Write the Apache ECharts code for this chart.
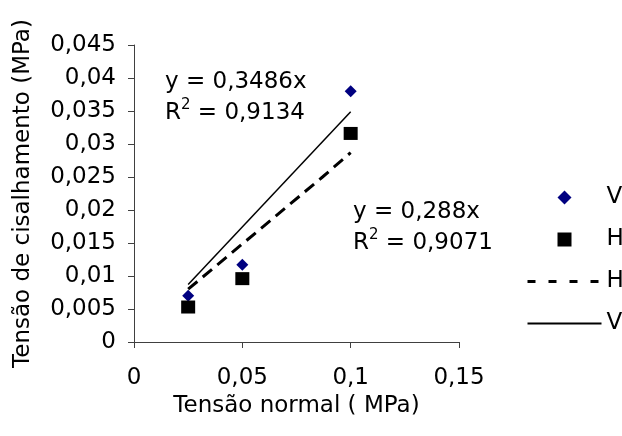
<!DOCTYPE html>
<html>
<head>
<meta charset="utf-8">
<title>Tensão de cisalhamento x Tensão normal</title>
<script src="https://cdn.jsdelivr.net/npm/echarts@6/dist/echarts.min.js"></script>
<style>
  html, body { margin: 0; padding: 0; background: #fff; }
  #chart { width: 622px; height: 436px; }
</style>
</head>
<body>
<div id="chart"></div>
<script>
// pontos medidos (tensão normal, tensão de cisalhamento), em MPa
var tensaoNormal = [0.025, 0.05, 0.1];
var cisalhamentoV = [0.0070, 0.0117, 0.0380];
var cisalhamentoH = [0.0053, 0.0096, 0.0316];

// linhas de tendência
var tendenciaV = [[0.025, 0.0087], [0.1, 0.0349]];
var tendenciaH = [[0.025, 0.0080], [0.087, 0.0250], [0.1, 0.0287]];

// equações das tendências
var equacaoV = ['y = 0,3486x', '0,9134'];
var equacaoH = ['y = 0,288x', '0,9071'];

var fonte = 'DejaVu Sans';
var tam = 23;
var corEixo = '#404040';

// ícones da legenda: a caixa inteira (74x14) entra no caminho para o marcador não esticar
var iconeLosango = 'path://M0,0L0,0M74,14L74,14M30,7L37,0L44,7L37,14Z';
var iconeQuadrado = 'path://M0,0L0,0M74,14L74,14M30,0L44,0L44,14L30,14Z';

function virgula(v) {
  return String(v).replace('.', ',');
}

function pares(xs, ys) {
  return xs.map(function (x, i) { return [x, ys[i]]; });
}

function rotulo(eq, x, y) {
  var rich = {
    t: { fontFamily: fonte, fontSize: tam, lineHeight: 31, fill: '#000' },
    s: { fontFamily: fonte, fontSize: 15, lineHeight: 20, verticalAlign: 'top', fill: '#000' }
  };
  return {
    type: 'text',
    left: x,
    top: y,
    silent: true,
    style: {
      text: '{t|' + eq[0] + '}\n{t|R}{s|2}{t| = ' + eq[1] + '}',
      rich: rich,
      fill: '#000'
    }
  };
}

var chart = echarts.init(document.getElementById('chart'));

chart.setOption({
  animation: false,
  backgroundColor: '#fff',
  textStyle: { fontFamily: fonte },
  grid: { left: 134, top: 45, width: 325, height: 297 },
  xAxis: {
    type: 'value',
    min: 0,
    max: 0.15,
    interval: 0.05,
    splitLine: { show: false },
    axisLine: { lineStyle: { color: corEixo, width: 1 } },
    axisTick: { length: 6, lineStyle: { color: corEixo } },
    axisLabel: { fontFamily: fonte, fontSize: tam, color: '#000', margin: 25, formatter: virgula },
    name: 'Tensão normal ( MPa)',
    nameLocation: 'middle',
    nameGap: 52,
    nameTextStyle: { fontFamily: fonte, fontSize: tam, color: '#000' }
  },
  yAxis: {
    type: 'value',
    min: 0,
    max: 0.045,
    interval: 0.005,
    splitLine: { show: false },
    axisLine: { show: true, lineStyle: { color: corEixo, width: 1 } },
    axisTick: { show: true, length: 6, lineStyle: { color: corEixo } },
    axisLabel: { fontFamily: fonte, fontSize: tam, color: '#000', margin: 18, formatter: virgula },
    name: 'Tensão de cisalhamento (MPa)',
    nameLocation: 'middle',
    nameRotate: 90,
    nameGap: 99,
    nameTextStyle: { fontFamily: fonte, fontSize: tam, color: '#000' }
  },
  legend: {
    orient: 'vertical',
    left: 526,
    top: 186,
    padding: 0,
    itemWidth: 74,
    itemHeight: 14,
    itemGap: 19,
    selectedMode: false,
    textStyle: { fontFamily: fonte, fontSize: tam, lineHeight: 23, color: '#000' },
    formatter: function (name) { return name.split(' ')[0]; },
    data: [
      { name: 'V pontos', icon: iconeLosango },
      { name: 'H pontos', icon: iconeQuadrado },
      { name: 'H tendencia', lineStyle: { type: [8, 13], width: 3 }, itemStyle: { opacity: 0 } },
      { name: 'V tendencia', lineStyle: { width: 2 }, itemStyle: { opacity: 0 } }
    ]
  },
  graphic: [
    rotulo(equacaoV, 165, 71),
    rotulo(equacaoH, 353, 201)
  ],
  series: [
    {
      name: 'V tendencia',
      type: 'line',
      data: tendenciaV,
      symbol: 'none',
      silent: true,
      lineStyle: { color: '#000', width: 1.5 },
      itemStyle: { color: '#000' }
    },
    {
      name: 'H tendencia',
      type: 'line',
      data: tendenciaH,
      symbol: 'none',
      silent: true,
      lineStyle: { color: '#000', width: 3, type: [12, 7] },
      itemStyle: { color: '#000' }
    },
    {
      name: 'V pontos',
      type: 'scatter',
      data: pares(tensaoNormal, cisalhamentoV),
      symbol: 'diamond',
      symbolSize: [12, 12],
      silent: true,
      itemStyle: { color: '#000080', opacity: 1 }
    },
    {
      name: 'H pontos',
      type: 'scatter',
      data: pares(tensaoNormal, cisalhamentoH),
      symbol: 'rect',
      symbolSize: [14, 13],
      silent: true,
      itemStyle: { color: '#000', opacity: 1 }
    }
  ]
});
</script>
</body>
</html>
